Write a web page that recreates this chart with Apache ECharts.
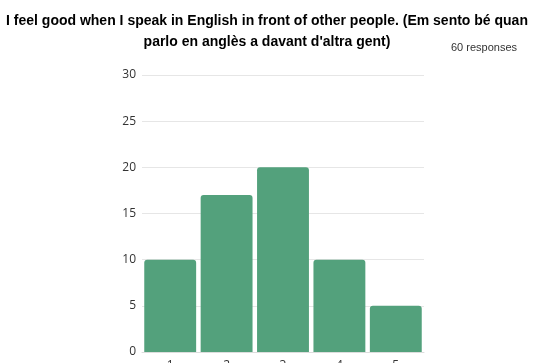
<!DOCTYPE html>
<html><head><meta charset="utf-8">
<script src="https://cdn.jsdelivr.net/npm/echarts@6/dist/echarts.min.js"></script>
<style>html,body{margin:0;padding:0;background:#fff}#c{width:535px;height:363px}</style>
</head><body><div id="c"></div>
<script>
const categories = ['1', '2', '3', '4', '5'];
const values = [10, 17, 20, 10, 5];
const yTicks = [0, 5, 10, 15, 20, 25, 30];
const titleLines = ["I feel good when I speak in English in front of other people. (Em sento bé quan", "parlo en anglès a davant d'altra gent)"];
const responsesText = '60 responses';

const chart = echarts.init(document.getElementById('c'));
chart.setOption({
  animation: false,
  graphic: [{
    type: 'text', x: 267, y: 11,
    style: {
      text: titleLines.join('\n'), align: 'center', verticalAlign: 'top',
      font: 'bold 14px "Liberation Sans", Arial', fill: '#000', lineHeight: 21
    }
  }, {
    type: 'text', right: 18, top: 42,
    style: { text: responsesText, font: '11px "Liberation Sans", Arial', fill: '#333' }
  }],
  grid: { left: 142, right: 111, top: 75, bottom: 11, containLabel: false, outerBoundsMode: 'none' },
  xAxis: {
    type: 'category', data: categories,
    axisLine: { lineStyle: { color: '#ddd' } },
    axisTick: { show: false },
    axisLabel: { fontFamily: 'Open Sans', fontSize: 12, color: '#333', margin: 8 }
  },
  yAxis: {
    type: 'value', min: yTicks[0], max: yTicks[yTicks.length - 1], interval: 5,
    axisLine: { show: false }, axisTick: { show: false },
    splitLine: { lineStyle: { color: '#e6e6e6' } },
    axisLabel: { fontFamily: 'Open Sans', fontSize: 12, color: '#333', margin: 6 }
  },
  series: [{
    type: 'bar', data: values, barCategoryGap: '8%',
    itemStyle: { color: '#53a17c', borderRadius: [3, 3, 0, 0] }
  }]
});
</script></body></html>
